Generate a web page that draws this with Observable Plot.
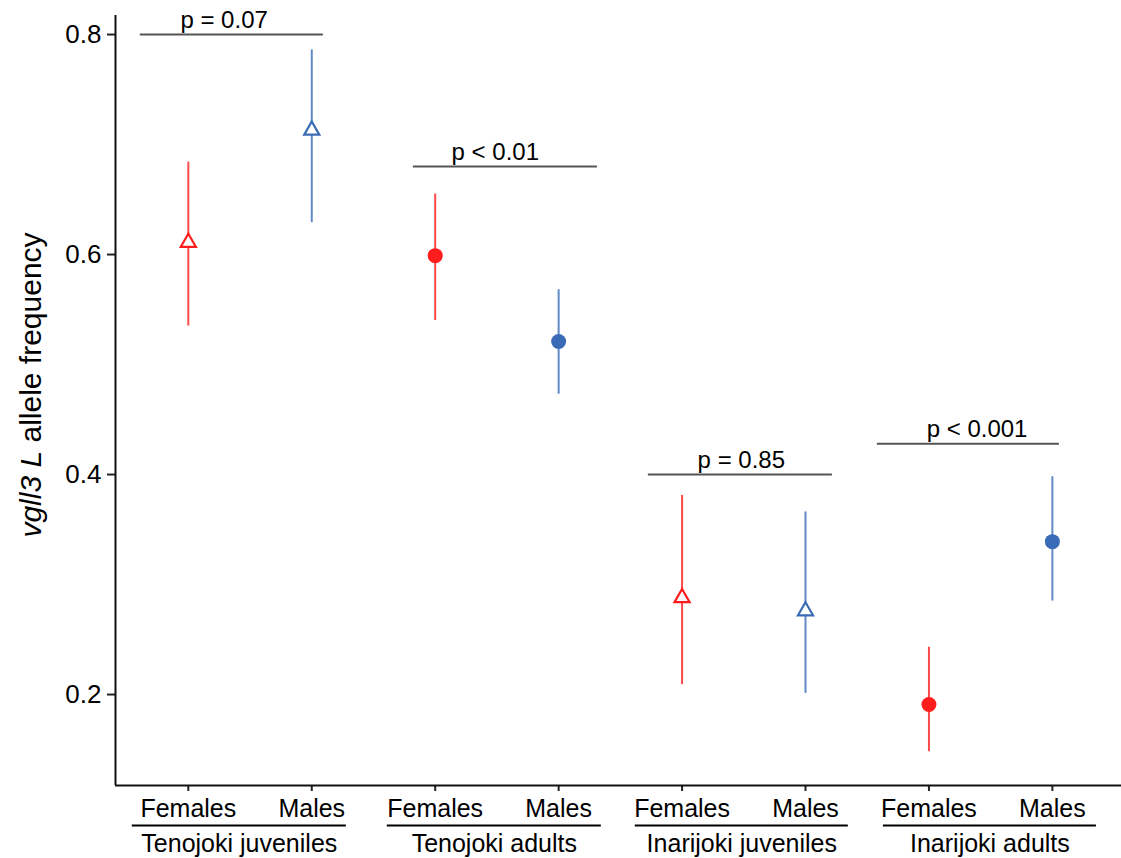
<!DOCTYPE html>
<html><head><meta charset="utf-8">
<script src="https://cdn.jsdelivr.net/npm/d3@7"></script>
<script src="https://cdn.jsdelivr.net/npm/@observablehq/plot@0.6"></script>
<style>body{margin:0;background:#fff;} svg{display:block}</style>
</head><body><div id="chart"></div>
<script>
// ---- data ----
const groups = ["Tenojoki juveniles", "Tenojoki adults", "Inarijoki juveniles", "Inarijoki adults"];
const stages = ["juvenile", "adult", "juvenile", "adult"];
const sexes = ["Females", "Males"];
// order: group1 F, group1 M, group2 F, group2 M, ...
const freq  = [0.611, 0.713, 0.599, 0.521, 0.288, 0.276, 0.191, 0.339];
const lower = [0.535, 0.629, 0.540, 0.473, 0.209, 0.201, 0.148, 0.285];
const upper = [0.684, 0.786, 0.655, 0.568, 0.381, 0.366, 0.243, 0.398];
const pLabels   = ["p = 0.07", "p < 0.01", "p = 0.85", "p < 0.001"];
const pBarY     = [0.800, 0.680, 0.400, 0.428];
const pBarStart = [0.611, 2.823, 4.727, 6.582];
const pBarEnd   = [2.094, 4.314, 6.218, 8.057];
const pLabelX   = [1.29, 3.487, 5.48, 7.39];
const groupLineStart = [0.546, 2.612, 4.621, 6.631];
const groupLineEnd   = [2.280, 4.346, 6.347, 8.357];
const yTicks = [0.2, 0.4, 0.6, 0.8];

// ---- tables ----
const colorBySex = {Females: "#FF1C1C", Males: "#3A6BB6"};
const points = freq.map((v, i) => ({
  pos: i + 1,
  group: groups[Math.floor(i / 2)],
  stage: stages[Math.floor(i / 2)],
  sex: sexes[i % 2],
  freq: v, lo: lower[i], hi: upper[i]
}));
const brackets = pLabels.map((t, i) => ({label: t, y: pBarY[i], x1: pBarStart[i], x2: pBarEnd[i], lx: pLabelX[i]}));
const groupRows = groups.map((g, i) => ({name: g, x1: groupLineStart[i], x2: groupLineEnd[i], mid: (groupLineStart[i] + groupLineEnd[i]) / 2}));

const X0 = 0.41, X1 = 8.56, Y0 = 0.1173, Y1 = 0.8173;
const font = "'Liberation Sans', Arial, Helvetica, sans-serif";

const chart = Plot.plot({
  width: 1121, height: 858,
  marginLeft: 115, marginRight: 0, marginTop: 15, marginBottom: 73,
  x: {domain: [X0, X1]},
  y: {domain: [Y0, Y1]},
  style: {fontFamily: font, fontSize: "25px", color: "#000", background: "#fff"},
  marks: [
    Plot.axisY({ticks: yTicks, tickFormat: d3.format(".1f"), tickSize: 8, tickPadding: 6, fontSize: 26, stroke: "#222", strokeWidth: 2, label: null}),
    Plot.axisX({ticks: points.map(d => d.pos), tickFormat: d => sexes[(d - 1) % 2], tickSize: 6, tickPadding: 8, fontSize: 25, stroke: "#222", strokeWidth: 2, label: null}),
    Plot.ruleX([X0], {stroke: "#111", strokeWidth: 2}),
    Plot.ruleY([Y0], {stroke: "#111", strokeWidth: 2}),
    Plot.ruleX(points, {x: "pos", y1: "lo", y2: "hi", stroke: d => colorBySex[d.sex], strokeWidth: 2, strokeOpacity: 0.8}),
    Plot.dot(points.filter(d => d.stage === "adult"), {x: "pos", y: "freq", r: 7.5, fill: d => colorBySex[d.sex], stroke: "none", symbol: "circle"}),
    Plot.dot(points.filter(d => d.stage === "juvenile"), {x: "pos", y: "freq", r: 5.6, fill: "white", stroke: d => colorBySex[d.sex], strokeWidth: 2.2, symbol: "triangle"}),
    Plot.ruleY(brackets, {x1: "x1", x2: "x2", y: "y", stroke: "#555", strokeWidth: 2}),
    Plot.text(brackets, {x: "lx", y: "y", text: "label", lineAnchor: "bottom", dy: -7, fontSize: 24, fill: "#000"}),
    Plot.ruleY(groupRows, {x1: "x1", x2: "x2", y: () => Y0, dy: 40, stroke: "#000", strokeWidth: 2}),
    Plot.text(groupRows, {x: "mid", y: () => Y0, dy: 58, text: "name", fontSize: 25, fill: "#000"})
  ]
});

// y-axis title with italic gene name
const svg = d3.select(chart);
const t = svg.append("text")
  .attr("transform", "translate(30,385) rotate(-90)")
  .attr("text-anchor", "middle")
  .attr("dominant-baseline", "central")
  .attr("font-family", font)
  .attr("font-size", 30)
  .attr("fill", "#000");
t.append("tspan").attr("font-style", "italic").text("vgll3 L");
t.append("tspan").text(" allele frequency");

document.getElementById("chart").appendChild(chart);
</script>
</body></html>
